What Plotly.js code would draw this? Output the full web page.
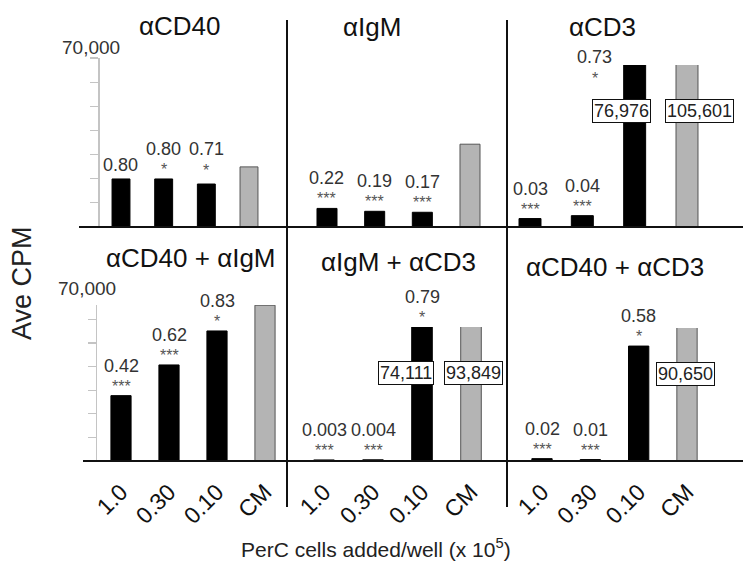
<!DOCTYPE html>
<html>
<head>
<meta charset="utf-8">
<script src="https://cdn.plot.ly/plotly-3.0.1.min.js"></script>
<style>html,body{margin:0;padding:0;background:#fff}#chart{width:751px;height:574px}</style>
</head>
<body>
<div id="chart"></div>
<script>
// ---------------- DATA ----------------
const categories = ['1.0', '0.30', '0.10', 'CM'];
const panelTitles = ['αCD40', 'αIgM', 'αCD3', 'αCD40 + αIgM', 'αIgM + αCD3', 'αCD40 + αCD3'];

const cd40Values     = [19900, 19900, 17800, 24900];
const igmValues      = [7700, 6500, 6100, 34300];
const cd3Values      = [3500, 4700, 76976, 105601];
const cd40IgmValues  = [27700, 40700, 55100, 66000];
const igmCd3Values   = [450, 500, 74111, 93849];
const cd40Cd3Values  = [1000, 600, 48700, 90650];

const cd40Ratios     = ['0.80', '0.80', '0.71'];
const igmRatios      = ['0.22', '0.19', '0.17'];
const cd3Ratios      = ['0.03', '0.04', '0.73'];
const cd40IgmRatios  = ['0.42', '0.62', '0.83'];
const igmCd3Ratios   = ['0.003', '0.004', '0.79'];
const cd40Cd3Ratios  = ['0.02', '0.01', '0.58'];

const cd40Sig        = ['', '*', '*'];
const igmSig         = ['***', '***', '***'];
const cd3Sig         = ['***', '***', '*'];
const cd40IgmSig     = ['***', '***', '*'];
const igmCd3Sig      = ['***', '***', '*'];
const cd40Cd3Sig     = ['***', '***', '*'];

const axisTopLabel = '70,000';
const yTitle = 'Ave CPM';
const xTitle = 'PerC cells added/well (x 10<sup>5</sup>)';

// ---------------- LAYOUT ----------------
const W = 751, H = 574;
const FONT = 'Liberation Sans, Arial, sans-serif';
const px = x => x / W;
const py = y => 1 - y / H;

const topUnitsPerPx = 70000 / (227 - 58);
const botUnitsPerPx = 10000 / 23.6;

const panels = [
  {vals: cd40Values,    ratios: cd40Ratios,    sig: cd40Sig,    c0: 121, c3: 249, base: 227, top: 58,  upp: topUnitsPerPx, showY: true,  bottom: false, title: [180, 26], topLabel: [91, 48]},
  {vals: igmValues,     ratios: igmRatios,     sig: igmSig,     c0: 327, c3: 470, base: 227, top: 58,  upp: topUnitsPerPx, showY: false, bottom: false, title: [372, 27]},
  {vals: cd3Values,     ratios: cd3Ratios,     sig: cd3Sig,     c0: 530, c3: 687, base: 227, top: 65,  upp: topUnitsPerPx, showY: false, bottom: false, title: [602, 27]},
  {vals: cd40IgmValues, ratios: cd40IgmRatios, sig: cd40IgmSig, c0: 121, c3: 265, base: 461, top: 305, upp: botUnitsPerPx, showY: true,  bottom: true,  title: [191, 258], topLabel: [87, 288]},
  {vals: igmCd3Values,  ratios: igmCd3Ratios,  sig: igmCd3Sig,  c0: 324, c3: 471, base: 461, top: 327, upp: botUnitsPerPx, showY: false, bottom: true,  title: [399, 262]},
  {vals: cd40Cd3Values, ratios: cd40Cd3Ratios, sig: cd40Cd3Sig, c0: 542, c3: 687, base: 461, top: 328, upp: botUnitsPerPx, showY: false, bottom: true,  title: [615, 267]}
];

// placement tweaks for individual labels: key "panel-bar"
const labelNudge = {'2-2': {xshift: -40, num: 8, ast: -13.5}, '0-2': {num: 35, ast: 14}};
const boxNudge = {'2-2': -13, '2-3': 12, '4-2': -16, '4-3': 2, '5-2': 0, '5-3': -2};

const traces = [];
const layout = {
  width: W, height: H, autosize: false,
  margin: {l: 0, r: 0, t: 0, b: 0},
  paper_bgcolor: '#fff', plot_bgcolor: 'rgba(0,0,0,0)',
  showlegend: false,
  font: {family: FONT, color: '#222'},
  annotations: [],
  shapes: []
};

panels.forEach((p, i) => {
  const n = i + 1;
  const xa = 'x' + n, ya = 'y' + n;
  const s = (p.c3 - p.c0) / 3;
  const yMax = (p.base - p.top) * p.upp;

  traces.push({
    type: 'bar', x: categories, y: p.vals, xaxis: xa, yaxis: ya,
    width: 0.42,
    marker: {
      color: categories.map((c, j) => j === 3 ? '#b4b4b4' : '#000'),
      line: {color: categories.map((c, j) => j === 3 ? '#555' : '#000'), width: 1}
    },
    hoverinfo: 'skip'
  });

  layout['xaxis' + (n === 1 ? '' : n)] = {
    type: 'category', range: [-0.5, 3.5],
    domain: [px(p.c0 - s / 2), px(p.c3 + s / 2)],
    anchor: ya, showgrid: false, zeroline: false, showline: false, ticks: '',
    showticklabels: p.bottom, tickangle: -45, ticklabelstandoff: 12,
    tickfont: {family: FONT, size: 23, color: '#111'}, fixedrange: true
  };
  layout['yaxis' + (n === 1 ? '' : n)] = {
    range: [0, yMax], domain: [py(p.base), py(p.top)], anchor: xa,
    visible: p.showY, showgrid: false, zeroline: false,
    showline: p.showY, linecolor: '#c4c4c4', linewidth: 1.5,
    ticks: 'outside', ticklen: 8, tickcolor: '#c4c4c4', tickwidth: 1.2,
    dtick: 10000, tick0: 0, showticklabels: false, fixedrange: true
  };

  // panel title
  layout.annotations.push({xref: 'paper', yref: 'paper', x: px(p.title[0]), y: py(p.title[1]),
    xanchor: 'center', yanchor: 'middle', showarrow: false, text: panelTitles[i],
    font: {family: FONT, size: 26, color: '#111'}});

  // ratio + significance labels (x given as category index)
  p.ratios.forEach((r, j) => {
    const key = i + '-' + j;
    const nud = labelNudge[key] || {};
    const yv = Math.min(p.vals[j], yMax);
    const hasSig = p.sig[j] !== '';
    layout.annotations.push({xref: xa, yref: ya, x: j, y: yv,
      xanchor: 'center', yanchor: 'middle', showarrow: false, text: r,
      xshift: nud.xshift || 0, yshift: nud.num !== undefined ? nud.num : (hasSig ? 30 : 14),
      font: {family: FONT, size: 18, color: '#333'}});
    if (hasSig) {
      layout.annotations.push({xref: xa, yref: ya, x: j, y: yv,
        xanchor: 'center', yanchor: 'middle', showarrow: false, text: p.sig[j],
        xshift: nud.xshift || 0, yshift: nud.ast !== undefined ? nud.ast : 9.5,
        font: {family: FONT, size: 16, color: '#555'}});
    }
  });

  // boxed values for bars that run off the axis
  p.vals.forEach((v, j) => {
    if (v > yMax) {
      const key = i + '-' + j;
      layout.annotations.push({xref: xa, yref: ya, x: j, y: yMax,
        xanchor: 'center', yanchor: 'middle', showarrow: false,
        text: v.toLocaleString('en-US'),
        xshift: boxNudge[key] || 0, yshift: -46,
        bgcolor: '#fff', bordercolor: '#111', borderwidth: 1, borderpad: 1,
        font: {family: FONT, size: 18, color: '#222'}});
    }
  });

  if (p.topLabel) {
    layout.annotations.push({xref: 'paper', yref: 'paper', x: px(p.topLabel[0]), y: py(p.topLabel[1]),
      xanchor: 'center', yanchor: 'middle', showarrow: false, text: axisTopLabel,
      font: {family: FONT, size: 19, color: '#333'}});
  }
});

// axis titles
layout.annotations.push({xref: 'paper', yref: 'paper', x: px(22), y: py(283), xanchor: 'center', yanchor: 'middle',
  showarrow: false, text: yTitle, textangle: -90, font: {family: FONT, size: 27, color: '#222'}});
layout.annotations.push({xref: 'paper', yref: 'paper', x: px(376), y: py(548), xanchor: 'center', yanchor: 'middle',
  showarrow: false, text: xTitle, font: {family: FONT, size: 21, color: '#222'}});

// baselines and panel separators
const line = (x0, y0, x1, y1, w) => ({type: 'line', xref: 'paper', yref: 'paper',
  x0: px(x0), y0: py(y0), x1: px(x1), y1: py(y1), line: {color: '#111', width: w}, layer: 'above'});
layout.shapes.push(line(79, 227, 743, 227, 1.8));
layout.shapes.push(line(83, 461, 743, 461, 1.8));
layout.shapes.push(line(287, 20, 287, 507, 2));
layout.shapes.push(line(507, 20, 507, 507, 2));

Plotly.newPlot('chart', traces, layout, {staticPlot: true, displayModeBar: false});
</script>
</body>
</html>
